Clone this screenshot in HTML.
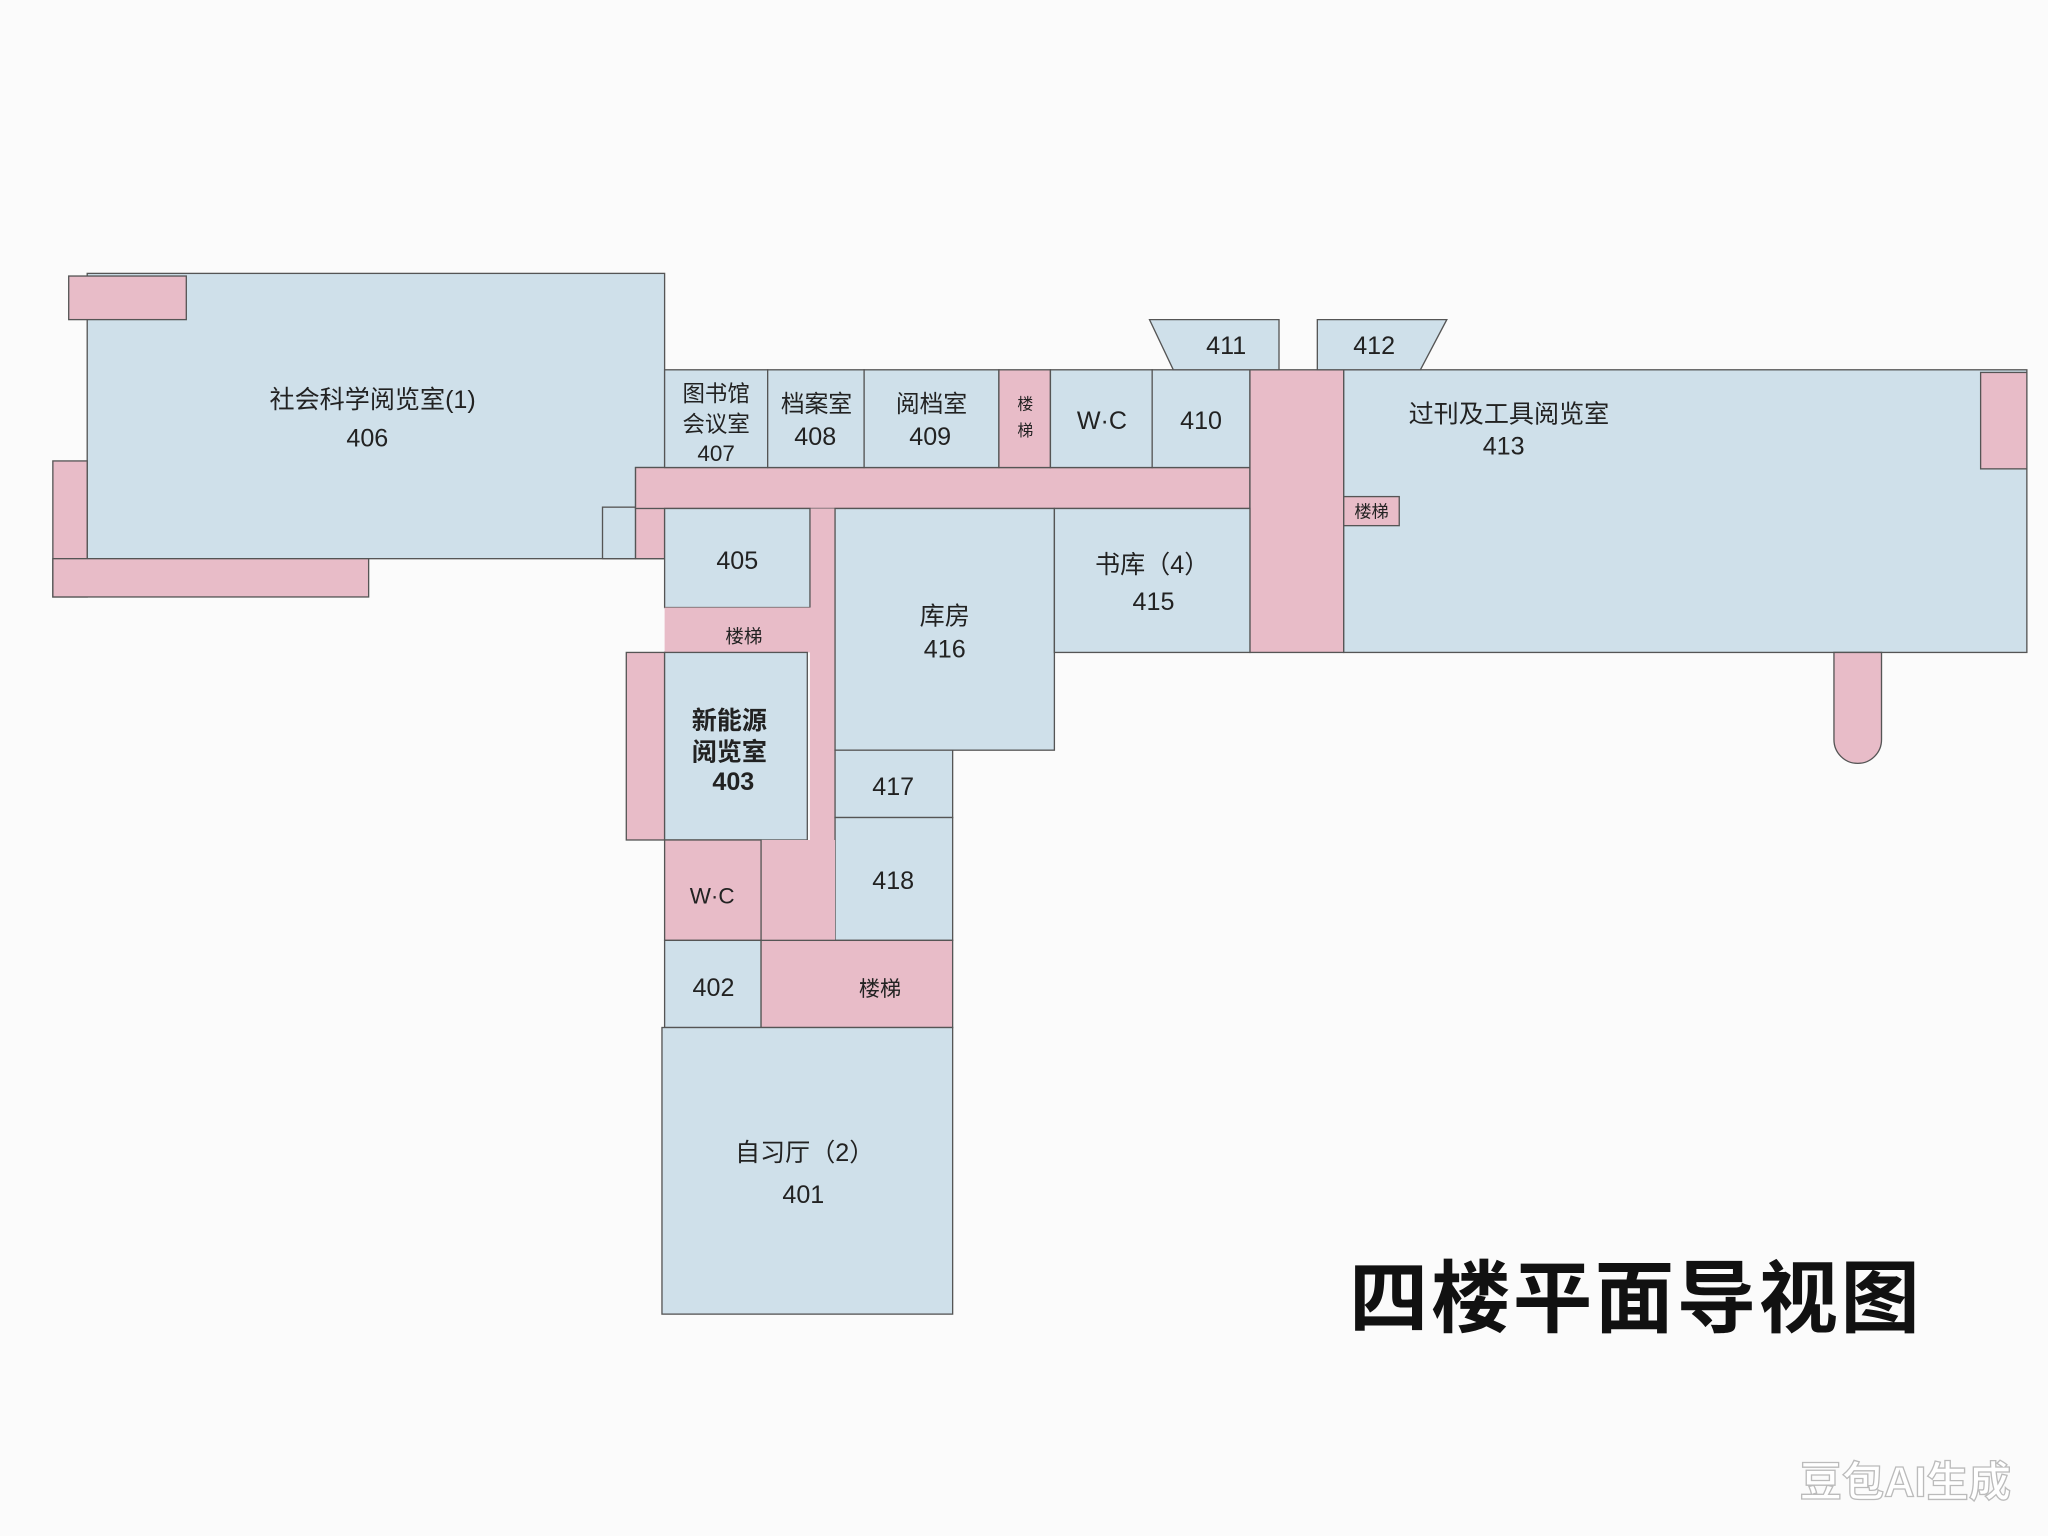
<!DOCTYPE html>
<html><head><meta charset="utf-8"><style>
html,body{margin:0;padding:0;background:#fbfbfb;}
svg{display:block;}
text{font-family:"Liberation Sans","Noto Sans CJK SC",sans-serif;fill:#222;text-anchor:middle;}
</style></head><body>
<svg width="2048" height="1536" viewBox="0 0 1550 1163" preserveAspectRatio="none" xmlns="http://www.w3.org/2000/svg">
<rect x="0" y="0" width="1550" height="1163" fill="#fbfbfb"/>
<g stroke="#555" stroke-width="1" fill="#cfe0ea">
<rect x="66" y="207" width="437" height="216"/>
<rect x="52" y="209" width="89" height="33" fill="#e8bcc8"/>
<rect x="40" y="349" width="26" height="103" fill="#e8bcc8"/>
<rect x="40" y="423" width="239" height="29" fill="#e8bcc8"/>
<rect x="456" y="384" width="25" height="39"/>
<rect x="481" y="354" width="22" height="69" fill="#e8bcc8"/>
<rect x="481" y="354" width="465" height="31" fill="#e8bcc8"/>
<rect x="503" y="280" width="78" height="74"/>
<rect x="581" y="280" width="73" height="74"/>
<rect x="654" y="280" width="102" height="74"/>
<rect x="756" y="280" width="39" height="74" fill="#e8bcc8"/>
<rect x="795" y="280" width="77" height="74"/>
<rect x="872" y="280" width="74" height="74"/>
<rect x="946" y="280" width="71" height="214" fill="#e8bcc8"/>
<rect x="1017" y="280" width="517" height="214"/>
<rect x="1499" y="282" width="35" height="73" fill="#e8bcc8"/>
<rect x="1017" y="376" width="42" height="22" fill="#e8bcc8"/>
<polygon points="870,242 968,242 968,280 888,280"/>
<polygon points="997,242 1095,242 1075,280 997,280"/>
<rect x="613" y="385" width="19" height="327" fill="#e8bcc8" stroke="none"/>
<rect x="503" y="385" width="110" height="75"/>
<rect x="503" y="460" width="129" height="34" fill="#e8bcc8" stroke="none"/>
<rect x="632" y="385" width="166" height="183"/>
<rect x="798" y="385" width="148" height="109"/>
<rect x="474" y="494" width="29" height="142" fill="#e8bcc8"/>
<rect x="503" y="494" width="108" height="142"/>
<rect x="632" y="568" width="89" height="51"/>
<rect x="632" y="619" width="89" height="93"/>
<rect x="576" y="636" width="56" height="76" fill="#e8bcc8" stroke="none"/>
<rect x="503" y="636" width="73" height="76" fill="#e8bcc8"/>
<rect x="503" y="712" width="73" height="66"/>
<rect x="576" y="712" width="145" height="66" fill="#e8bcc8"/>
<rect x="501" y="778" width="220" height="217"/>
<path d="M1388,494 L1388,560 A18,18 0 0 0 1424,560 L1424,494 Z" fill="#e8bcc8"/>
</g>
<g font-size="19">
<text x="282" y="309">社会科学阅览室(1)</text>
<text x="278" y="338">406</text>
<text x="542" y="304" font-size="17">图书馆</text>
<text x="542" y="327" font-size="17">会议室</text>
<text x="542" y="349" font-size="17">407</text>
<text x="618" y="312" font-size="18">档案室</text>
<text x="617" y="337">408</text>
<text x="705" y="312" font-size="18">阅档室</text>
<text x="704" y="337">409</text>
<text x="776" y="310" font-size="12">楼</text>
<text x="776" y="330" font-size="12">梯</text>
<text x="834" y="325">W·C</text>
<text x="909" y="325">410</text>
<text x="928" y="268">411</text>
<text x="1040" y="268">412</text>
<text x="1142" y="320">过刊及工具阅览室</text>
<text x="1138" y="344">413</text>
<text x="1038" y="392" font-size="13">楼梯</text>
<text x="558" y="431">405</text>
<text x="563" y="487" font-size="14">楼梯</text>
<text x="715" y="473">库房</text>
<text x="715" y="498">416</text>
<text x="872" y="434">书库（4）</text>
<text x="873" y="462">415</text>
<text x="552" y="552" font-weight="bold">新能源</text>
<text x="552" y="576" font-weight="bold">阅览室</text>
<text x="555" y="598" font-weight="bold">403</text>
<text x="676" y="602">417</text>
<text x="676" y="673">418</text>
<text x="539" y="684" font-size="17">W·C</text>
<text x="540" y="754">402</text>
<text x="666" y="754" font-size="16">楼梯</text>
<text x="609" y="879">自习厅（2）</text>
<text x="608" y="911">401</text>
</g>
<text x="1238" y="1004" font-size="60" font-weight="bold" letter-spacing="2" style="fill:#111">四楼平面导视图</text>
<text x="1442" y="1133" font-size="32" font-weight="bold" style="fill:#fff;stroke:#bbb;stroke-width:1">豆包AI生成</text>
</svg>
</body></html>
